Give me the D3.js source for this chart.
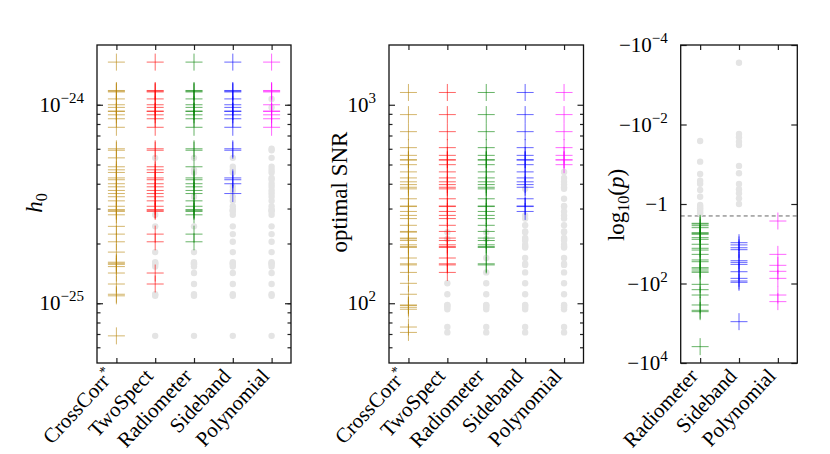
<!DOCTYPE html>
<html>
<head>
<meta charset="utf-8">
<script src="https://cdn.jsdelivr.net/npm/d3@7"></script>
<style>
  body { margin: 0; background: #fff; }
  text { font-family: "Liberation Serif", "DejaVu Serif", serif; fill: #000; }
</style>
</head>
<body>
<div class="canvas"></div>
<script>
// categories
const pipelines = ["CrossCorr*", "TwoSpect", "Radiometer", "Sideband", "Polynomial"];
const pvaluePipelines = ["Radiometer", "Sideband", "Polynomial"];

// panel 1 : injected h0 (CrossCorr* recovers all of them)
const h0Injected = [1.64e-24, 1.18e-24, 1.17e-24, 1.16e-24, 1.07e-24, 1.0e-24, 9.7e-25, 9.3e-25, 9.25e-25, 8.9e-25,
  8.5e-25, 7.7e-25, 6.0e-25, 5.9e-25, 5.4e-25, 4.87e-25, 4.7e-25, 4.56e-25, 4.28e-25, 4.19e-25, 4.0e-25, 3.86e-25,
  3.7e-25, 3.57e-25, 3.44e-25, 3.28e-25, 3.08e-25, 2.96e-25, 2.94e-25, 2.9e-25, 2.79e-25, 2.44e-25, 2.23e-25,
  2.04e-25, 1.81e-25, 1.61e-25, 1.59e-25, 1.57e-25, 1.53e-25, 1.42e-25, 1.25e-25, 1.11e-25, 1.09e-25, 6.85e-26];
const h0MissedTwoSpect = [5.4e-25, 2.79e-25, 2.44e-25, 1.81e-25, 1.61e-25, 1.59e-25, 1.57e-25, 1.53e-25, 1.11e-25, 1.09e-25, 6.85e-26];
const h0MissedRadiometer = [5.4e-25, 4.7e-25, 4.56e-25, 3.44e-25, 2.44e-25, 1.81e-25, 1.61e-25, 1.59e-25, 1.57e-25,
  1.53e-25, 1.42e-25, 1.25e-25, 1.11e-25, 1.09e-25, 6.85e-26];
const h0MissedSideband = [5.4e-25, 4.87e-25, 4.7e-25, 4.56e-25, 3.86e-25, 3.7e-25, 3.44e-25, 3.28e-25, 3.08e-25,
  2.96e-25, 2.94e-25, 2.9e-25, 2.79e-25, 2.44e-25, 2.23e-25, 2.04e-25, 1.81e-25, 1.61e-25, 1.59e-25, 1.57e-25,
  1.53e-25, 1.42e-25, 1.25e-25, 1.11e-25, 1.09e-25, 6.85e-26];
const h0MissedPolynomial = [1.07e-24, 9.7e-25, 6.0e-25, 5.9e-25, 5.4e-25, 4.87e-25, 4.7e-25, 4.56e-25, 4.28e-25,
  4.19e-25, 4.0e-25, 3.86e-25, 3.7e-25, 3.57e-25, 3.44e-25, 3.28e-25, 3.08e-25, 2.96e-25, 2.94e-25, 2.9e-25,
  2.79e-25, 2.44e-25, 2.23e-25, 2.04e-25, 1.81e-25, 1.61e-25, 1.59e-25, 1.57e-25, 1.53e-25, 1.42e-25, 1.25e-25,
  1.11e-25, 1.09e-25, 6.85e-26];
const h0MajorTicks = [1e-25, 1e-24];

// panel 2 : optimal SNR
const snrInjected = [1153, 892, 732, 608, 556, 528, 527, 499, 459, 428, 409, 396, 384, 377, 336, 309, 307, 290,
  277, 267, 247, 230, 228, 213, 211, 207, 197, 193, 191, 169, 158, 156, 143, 126, 111, 98, 97.5, 95.4, 93.3, 75.9, 71.3];
const snrMissedTwoSpect = [228, 211, 126, 111, 98, 97.5, 95.4, 93.3, 75.9, 71.3];
const snrMissedRadiometer = [228, 211, 169, 143, 126, 111, 98, 97.5, 95.4, 93.3, 75.9, 71.3];
const snrMissedSideband = [377, 277, 267, 247, 230, 228, 213, 211, 207, 197, 193, 191, 169, 158, 156, 143, 126,
  111, 98, 97.5, 95.4, 93.3, 75.9, 71.3];
const snrMissedPolynomial = [459, 428, 409, 396, 384, 377, 336, 309, 307, 290, 277, 267, 247, 230, 228, 213, 211,
  207, 197, 193, 191, 169, 158, 156, 143, 126, 111, 98, 97.5, 95.4, 93.3, 75.9, 71.3];
const snrMajorTicks = [100, 1000];

// panel 3 : log10(p)
const logpThreshold = -2;
const logpRadiometer = [-3.06, -3.2, -3.51, -3.94, -5.26, -5.5, -5.79, -7.03, -7.74, -10.3, -13.0, -14.4, -18.5,
  -25.6, -28.3, -40, -43.2, -48.5, -52.4, -105, -143, -195, -347, -473, -511, -3880,
  -0.026, -0.086, -0.176, -0.26, -0.31, -0.445, -0.655, -1.06, -1.15, -1.28, -1.4, -1.56, -1.7];
const logpSideband = [-9.4, -10.7, -12.6, -14.1, -26.7, -29.4, -33, -50.5, -74.2, -86.5, -93.4, -912,
  -2.8e-4, -0.0173, -0.021, -0.027, -0.033, -0.11, -0.169, -0.314, -0.427, -0.537, -0.72, -1.0];
const logpPolynomial = [-2.68, -18.5, -34.9, -49.4, -74.2, -195, -286];
const logpMajorTicks = [-1e-4, -1e-2, -1, -1e2, -1e4];

const colors = {
  "CrossCorr*": "#b8860b", TwoSpect: "#ff0000", Radiometer: "#008000",
  Sideband: "#0000ff", Polynomial: "#ff00ff"
};

const dims = {width: 830, height: 454, top: 45, bottom: 363};
const svg = d3.select(".canvas")
              .append("svg")
              .attr("width", dims.width)
              .attr("height", dims.height);

const minus = "\u2212";
const plusPath = "M-8.5,0H8.5M0,-8.5V8.5";

// writes base + superscript into a text node
const powerText = (t, base, exp) => {
  t.text(null);
  t.append("tspan").text(base);
  if (exp !== null) t.append("tspan").attr("dy", -9).attr("font-size", 15).text(exp);
};

const drawPanel = ({x0, x1, cats, y, columns, majors, minors, label, threshold}) => {
  const g = svg.append("g");
  const x = d3.scalePoint().domain(cats).range([x0, x1]).padding(0.5);

  if (threshold !== undefined) {
    g.append("line")
      .attr("x1", x0).attr("x2", x1)
      .attr("y1", y(threshold)).attr("y2", y(threshold))
      .attr("stroke", "#666").attr("stroke-width", 1).attr("stroke-dasharray", "4,3");
  }

  columns.forEach(({name, found, missed}) => {
    g.selectAll(null).data(missed).enter()
      .append("circle")
      .attr("cx", x(name)).attr("cy", d => y(d))
      .attr("r", 3.2).attr("fill", "#e4e4e4");
    g.selectAll(null).data(found).enter()
      .append("path")
      .attr("d", plusPath)
      .attr("transform", d => `translate(${x(name)},${y(d)})`)
      .attr("fill", "none")
      .attr("stroke", colors[name])
      .attr("stroke-opacity", 0.6)
      .attr("stroke-width", 1);
  });

  // axes, ticks pointing inward
  const left = g.append("g").attr("transform", `translate(${x0},0)`)
    .call(d3.axisLeft(y).tickValues(majors).tickSize(-6).tickPadding(13));
  left.selectAll(".tick text").each(function(d){ label(d3.select(this), d); });
  left.attr("font-size", 21).attr("font-family", "Liberation Serif");
  g.append("g").attr("transform", `translate(${x0},0)`)
    .call(d3.axisLeft(y).tickValues(minors).tickSize(-3.5).tickFormat(""));
  g.append("g").attr("transform", `translate(${x1},0)`)
    .call(d3.axisRight(y).tickValues(majors).tickSize(-6).tickFormat(""));
  g.append("g").attr("transform", `translate(${x1},0)`)
    .call(d3.axisRight(y).tickValues(minors).tickSize(-3.5).tickFormat(""));
  g.append("g").attr("transform", `translate(0,${dims.bottom})`)
    .call(d3.axisBottom(x).tickSize(-5).tickFormat(""));
  g.append("g").attr("transform", `translate(0,${dims.top})`)
    .call(d3.axisTop(x).tickSize(-5).tickFormat(""));
  g.selectAll(".domain").remove();
  g.selectAll(".tick line").attr("stroke", "#222").attr("stroke-width", 1.2);

  g.append("rect")
    .attr("x", x0).attr("y", dims.top)
    .attr("width", x1 - x0).attr("height", dims.bottom - dims.top)
    .attr("fill", "none").attr("stroke", "#111").attr("stroke-width", 1.3);

  // rotated category names
  cats.forEach(c => {
    const t = g.append("text")
      .attr("transform", `translate(${x(c) - 1},${dims.bottom + 14}) rotate(-47)`)
      .attr("text-anchor", "end")
      .attr("font-size", 21);
    if (c.endsWith("*")) {
      t.append("tspan").text(c.slice(0, -1));
      t.append("tspan").attr("dy", -8).attr("font-size", 14).text("*");
    } else {
      t.text(c);
    }
  });
  return g;
};

const missedOf = (all, missed) => all.filter(v => !missed.includes(v));

// panel 1
const yH0 = d3.scaleLog().domain([5e-26, 2e-24]).range([dims.bottom, dims.top]);
drawPanel({
  x0: 97, x1: 291, cats: pipelines, y: yH0,
  columns: [
    {name: "CrossCorr*", found: h0Injected, missed: []},
    {name: "TwoSpect", found: missedOf(h0Injected, h0MissedTwoSpect), missed: h0MissedTwoSpect},
    {name: "Radiometer", found: missedOf(h0Injected, h0MissedRadiometer), missed: h0MissedRadiometer},
    {name: "Sideband", found: missedOf(h0Injected, h0MissedSideband), missed: h0MissedSideband},
    {name: "Polynomial", found: missedOf(h0Injected, h0MissedPolynomial), missed: h0MissedPolynomial}
  ],
  majors: h0MajorTicks,
  minors: yH0.ticks().filter(v => !h0MajorTicks.includes(v) && v > 5.01e-26 && v < 1.99e-24),
  label: (t, d) => powerText(t, "10", minus + Math.abs(Math.round(Math.log10(d))))
});

// panel 2
const ySnr = d3.scaleLog().domain([50, 2000]).range([dims.bottom, dims.top]);
drawPanel({
  x0: 389, x1: 583.5, cats: pipelines, y: ySnr,
  columns: [
    {name: "CrossCorr*", found: snrInjected, missed: []},
    {name: "TwoSpect", found: missedOf(snrInjected, snrMissedTwoSpect), missed: snrMissedTwoSpect},
    {name: "Radiometer", found: missedOf(snrInjected, snrMissedRadiometer), missed: snrMissedRadiometer},
    {name: "Sideband", found: missedOf(snrInjected, snrMissedSideband), missed: snrMissedSideband},
    {name: "Polynomial", found: missedOf(snrInjected, snrMissedPolynomial), missed: snrMissedPolynomial}
  ],
  majors: snrMajorTicks,
  minors: ySnr.ticks().filter(v => !snrMajorTicks.includes(v) && v > 50.5 && v < 1990),
  label: (t, d) => powerText(t, "10", String(Math.round(Math.log10(d))))
});

// panel 3
const yLogp = d3.scaleLog().domain([-1e-4, -1e4]).range([dims.top, dims.bottom]);
const logpSets = {Radiometer: logpRadiometer, Sideband: logpSideband, Polynomial: logpPolynomial};
drawPanel({
  x0: 680.7, x1: 797.3, cats: pvaluePipelines, y: yLogp, threshold: logpThreshold,
  columns: pvaluePipelines.map(name => ({
    name,
    found: logpSets[name].filter(v => v < logpThreshold),
    missed: logpSets[name].filter(v => v >= logpThreshold)
  })),
  majors: logpMajorTicks,
  minors: [],
  label: (t, d) => {
    const e = Math.round(Math.log10(-d));
    if (e === 0) powerText(t, minus + "1", null);
    else powerText(t, minus + "10", (e < 0 ? minus : "") + Math.abs(e));
  }
});

// y axis titles
const yTitle = (x, yPos) => svg.append("text")
  .attr("transform", `translate(${x},${yPos}) rotate(-90)`)
  .attr("text-anchor", "middle")
  .attr("font-size", 23);

const t1 = yTitle(42, 203);
t1.append("tspan").attr("font-style", "italic").text("h");
t1.append("tspan").attr("dy", 5).attr("font-size", 16).text("0");

yTitle(347, 192).text("optimal SNR");

const t3 = yTitle(624, 205);
t3.append("tspan").text("log");
t3.append("tspan").attr("dy", 5).attr("font-size", 16).text("10");
t3.append("tspan").attr("dy", -5).text("(");
t3.append("tspan").attr("font-style", "italic").text("p");
t3.append("tspan").text(")");
</script>
</body>
</html>
